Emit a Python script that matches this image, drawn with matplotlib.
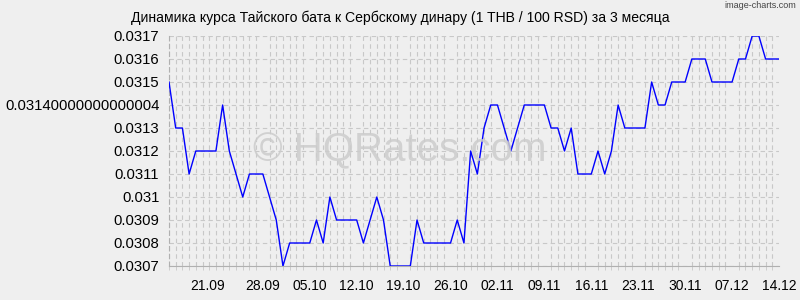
import matplotlib
matplotlib.use("Agg")
import matplotlib.pyplot as plt
from matplotlib.ticker import FixedLocator, MultipleLocator

plt.rcParams["font.family"] = ["Liberation Sans", "DejaVu Sans"]

# Курс THB/RSD (1 THB / 100 RSD), ежедневно 14.09 - 14.12
rates = [
    0.0315, 0.0313, 0.0313, 0.0311, 0.0312, 0.0312, 0.0312, 0.0312, 0.0314, 0.0312,
    0.0311, 0.0310, 0.0311, 0.0311, 0.0311, 0.0310, 0.0309, 0.0307, 0.0308, 0.0308,
    0.0308, 0.0308, 0.0309, 0.0308, 0.0310, 0.0309, 0.0309, 0.0309, 0.0309, 0.0308,
    0.0309, 0.0310, 0.0309, 0.0307, 0.0307, 0.0307, 0.0307, 0.0309, 0.0308, 0.0308,
    0.0308, 0.0308, 0.0308, 0.0309, 0.0308, 0.0312, 0.0311, 0.0313, 0.0314, 0.0314,
    0.0313, 0.0312, 0.0313, 0.0314, 0.0314, 0.0314, 0.0314, 0.0313, 0.0313, 0.0312,
    0.0313, 0.0311, 0.0311, 0.0311, 0.0312, 0.0311, 0.0312, 0.0314, 0.0313, 0.0313,
    0.0313, 0.0313, 0.0315, 0.0314, 0.0314, 0.0315, 0.0315, 0.0315, 0.0316, 0.0316,
    0.0316, 0.0315, 0.0315, 0.0315, 0.0315, 0.0316, 0.0316, 0.0317, 0.0317, 0.0316,
    0.0316, 0.0316,
]
date_labels = ["21.09", "28.09", "05.10", "12.10", "19.10", "26.10", "02.11",
               "09.11", "16.11", "23.11", "30.11", "07.12", "14.12"]
date_pos = [5.8, 14, 21, 28, 35, 42, 49, 56, 63, 70, 77, 84, 91]
y_ticks = [0.0307, 0.0308, 0.0309, 0.031, 0.0311, 0.0312, 0.0313, 0.0314,
           0.0315, 0.0316, 0.0317]
y_labels = ["0.0307", "0.0308", "0.0309", "0.031", "0.0311", "0.0312", "0.0313",
            "0.03140000000000004", "0.0315", "0.0316", "0.0317"]

BG = "#efefef"
GRID = "#c8c8c8"

fig = plt.figure(figsize=(8, 3), dpi=100, facecolor=BG)
ax = fig.add_axes([169 / 800, 1 - 266 / 300, 610 / 800, 230 / 300])
ax.set_facecolor(BG)

x = list(range(len(rates)))
ax.plot(x, rates, color="#0000ff", lw=1.0, zorder=3)

ax.set_xlim(0, len(rates) - 1)
ax.set_ylim(y_ticks[0], y_ticks[-1])

ax.xaxis.set_major_locator(FixedLocator(date_pos))
ax.set_xticklabels(date_labels)
ax.xaxis.set_minor_locator(MultipleLocator(1))
ax.set_yticks(y_ticks)
ax.set_yticklabels(y_labels)

ax.tick_params(axis="x", which="major", length=0, pad=9, labelsize=10)
ax.tick_params(axis="x", which="minor", length=3, color=GRID, direction="out")
ax.tick_params(axis="y", which="major", length=0, pad=7, labelsize=10.7)

ax.grid(True, which="minor", axis="x", color=GRID, lw=0.8, ls=(0, (4, 3)))
ax.grid(True, which="major", axis="y", color=GRID, lw=0.8, ls=(0, (4, 3)))

for s in ["top", "right"]:
    ax.spines[s].set_visible(False)
ax.spines["left"].set_color("#b0b0b0")
ax.spines["left"].set_linestyle((0, (4, 3)))
ax.spines["bottom"].set_color("#b0b0b0")

fig.text(0.5, 1 - 18 / 300, "Динамика курса Тайского бата к Сербскому динару (1 THB / 100 RSD) за 3 месяца",
         ha="center", va="center", fontsize=10.1)
fig.text(0.995, 1 - 6 / 300, "image-charts.com", ha="right", va="center",
         fontsize=6.5, color="#444444")
fig.text(0.5, 1 - 150 / 300, "© HQRates.com", ha="center", va="center",
         fontsize=29, color="#cccccc", alpha=0.85, zorder=0)

fig.savefig("out.png", dpi=100, facecolor=BG)
